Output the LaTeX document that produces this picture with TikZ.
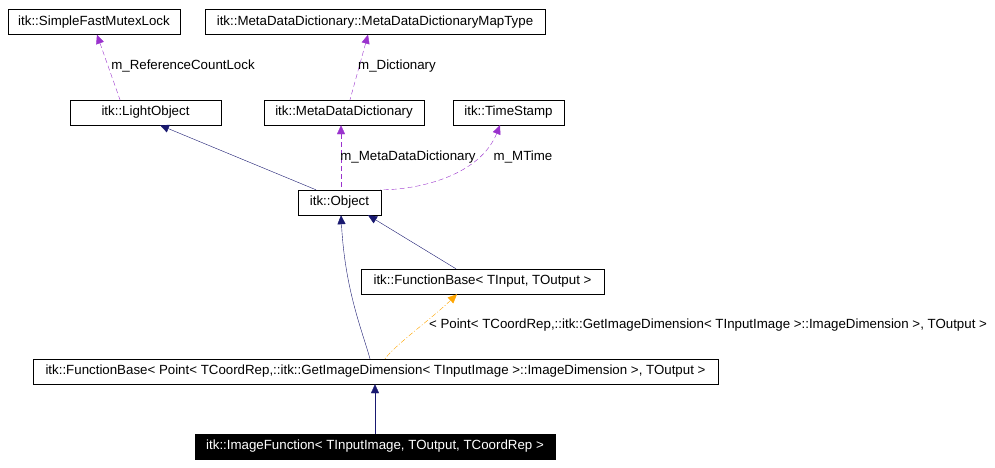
\documentclass[tikz,border=0pt]{standalone}
\usepackage{fontspec}
\setmainfont{Liberation Sans}
\usetikzlibrary{arrows.meta}
\definecolor{navy}{HTML}{191970}
\definecolor{purp}{HTML}{9A32CD}
\definecolor{orng}{HTML}{FFA500}
\begin{document}
\begin{tikzpicture}[x=1pt,y=-1pt,
 box/.style={draw,inner sep=0pt,font=\fontsize{13.3}{15}\selectfont},
 inh/.style={navy,{Triangle[length=9pt,width=8pt]}-},
 use/.style={purp,dash pattern=on 5pt off 3pt,{Triangle[length=9pt,width=8pt]}-},
 tpl/.style={orng,dash pattern=on 5pt off 2pt on 1pt off 2pt,{Triangle[length=9pt,width=8pt]}-},
 lab/.style={text=black,font=\fontsize{13.3}{15}\selectfont,inner sep=1pt}]
\useasboundingbox (0,0) rectangle (995,468);
\node[box,minimum width=172,minimum height=25] (mutex) at (94,22) {itk::SimpleFastMutexLock};
\node[box,minimum width=340,minimum height=25] (map) at (375,22) {itk::MetaDataDictionary::MetaDataDictionaryMapType};
\node[box,minimum width=151,minimum height=25] (light) at (145.5,112.5) {itk::LightObject};
\node[box,minimum width=160,minimum height=25] (mdd) at (344,112.5) {itk::MetaDataDictionary};
\node[box,minimum width=111,minimum height=25] (ts) at (508.5,112.5) {itk::TimeStamp};
\node[box,minimum width=83,minimum height=25] (obj) at (339.5,202.5) {itk::Object};
\node[box,minimum width=243,minimum height=25] (fb) at (482.5,281.5) {itk::FunctionBase< TInput, TOutput >};
\node[box,minimum width=685,minimum height=25] (fbp) at (375.5,371.5) {itk::FunctionBase< Point< TCoordRep,::itk::GetImageDimension< TInputImage >::ImageDimension >, TOutput >};
\node[box,fill=black,text=white,minimum width=360,minimum height=25] (imf) at (375,446.5) {itk::ImageFunction< TInputImage, TOutput, TCoordRep >};
\draw[use] (mutex.south -| 97,0) -- (light.north -| 120,0);
\node[lab] (l1) at (183,66) {m\_ReferenceCountLock};
\draw[use] (map.south -| 368,0) -- (mdd.north -| 350,0);
\node[lab] (l2) at (397,66) {m\_Dictionary};
\draw[inh] (light.south -| 160,0) -- (obj.north -| 316,0);
\draw[use] (mdd.south -| 341,0) -- (obj.north -| 341,0);
\node[lab] (l3) at (408,157) {m\_MetaDataDictionary};
\draw[use] (ts.south -| 500,0) .. controls (480,175) and (420,190) .. (obj.north -| 380,0);
\node[lab] (mt) at (523,157) {m\_MTime};
\draw[inh] (obj.south -| 368,0) -- (fb.north -| 456,0);
\draw[inh] (obj.south -| 341,0) .. controls (345,290) and (362,330) .. (fbp.north -| 370,0);
\draw[tpl] (fb.south -| 457,0) .. controls (430,320) and (395,345) .. (fbp.north -| 385,0);
\node[lab] (tl) at (708,325) {< Point< TCoordRep,::itk::GetImageDimension< TInputImage >::ImageDimension >, TOutput >};
\draw[inh] (fbp.south -| 375,0) -- (imf.north -| 375,0);
\end{tikzpicture}
\end{document}
